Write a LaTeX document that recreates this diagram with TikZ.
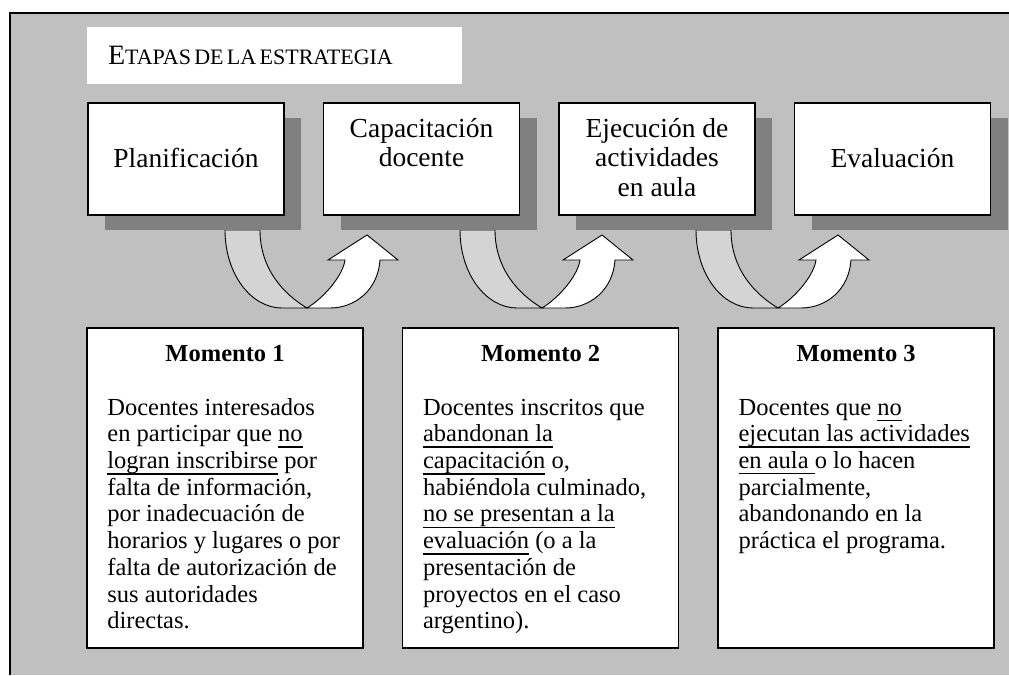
\documentclass[tikz,border=0pt]{standalone}
\usepackage{fontspec}
\setmainfont{Liberation Serif}
\usetikzlibrary{positioning,shadows}

\definecolor{fondo}{RGB}{192,192,192}
\definecolor{sombra}{RGB}{128,128,128}
\definecolor{brazo}{RGB}{212,212,212}

% subrayado a profundidad fija
\newcommand{\raya}[1]{\setbox0\hbox{#1}\rlap{\rule[-6pt]{\wd0}{1.3pt}}\box0\relax}

\tikzset{
  etapa/.style={draw=black, line width=1.5pt, fill=white,
    minimum width=196pt, minimum height=112pt,
    drop shadow={shadow xshift=17pt, shadow yshift=-15pt, fill=sombra, opacity=1}},
  rotulo/.style={font=\fontsize{27.5}{29.5}\selectfont, align=center,
    inner sep=0pt, anchor=north},
  momento/.style={draw=black, line width=1.6pt, fill=white,
    minimum width=276pt, minimum height=320pt},
  encabezado/.style={font=\fontsize{24.5}{26.7}\selectfont\bfseries,
    inner sep=0pt, anchor=base},
  cuerpo/.style={font=\fontsize{24.5}{26.7}\selectfont, align=left,
    inner sep=0pt, anchor=north west},
  flecha/.style={draw=black, line width=0.9pt}
}

\begin{document}
\begin{tikzpicture}[x=1pt, y=-1pt]
  \useasboundingbox (0,0) rectangle (1009,675);

  % Fondo y marco
  \fill[fondo] (10,13) rectangle (1009,675);
  \draw[line width=1.3pt] (10,675) -- (10,13) -- (1009,13);

  % Titulo
  \node[fill=white, minimum width=375pt, minimum height=57pt,
    inner xsep=21pt, inner ysep=0pt, text width=333pt, align=left] (titulo) at (274.5,55.5)
    {\fontsize{28}{30}\selectfont E\fontsize{22}{24}\selectfont TAPAS DE LA ESTRATEGIA};

  % Flechas en U entre etapas
  \foreach \dx in {307,542,778}{
    \begin{scope}[shift={(\dx,308)}]
      \draw[flecha, fill=brazo] (-82,-78) -- (-47,-78)
        .. controls (-47,-38) and (-22,-13) .. (0,0) -- (-25,0)
        .. controls (-56,0) and (-82,-34) .. (-82,-78);
      \draw[flecha, fill=white] (0,0)
        .. controls (18,-11) and (36,-33) .. (38,-48) -- (21,-48) -- (60,-73)
        -- (91,-48) -- (73,-48) .. controls (71,-18) and (48,0) .. (23,0) -- cycle;
    \end{scope}
  }

  % Etapas
  \node[etapa] (plan) at (186,159) {};
  \node[etapa, right=38pt of plan] (capa) {};
  \node[etapa, right=38pt of capa] (ejec) {};
  \node[etapa, right=38pt of ejec] (eval) {};

  \node[rotulo] (t1) at ([yshift=-44.35pt]plan.north) {\strut Planificación};
  \node[rotulo] (t2) at ([yshift=-14.35pt]capa.north) {\strut Capacitación\\docente};
  \node[rotulo] (t3) at ([yshift=-14.35pt]ejec.north) {\strut Ejecución de\\actividades\\en aula};
  \node[rotulo] (t4) at ([yshift=-44.35pt]eval.north) {\strut Evaluación};

  % Momentos
  \node[momento] (m1) at (225,488) {};
  \node[momento, right=38pt of m1] (m2) {};
  \node[momento, right=38pt of m2] (m3) {};

  \node[encabezado] (h1) at ([yshift=-34pt]m1.north) {Momento 1};
  \node[encabezado] (h2) at ([yshift=-34pt]m2.north) {Momento 2};
  \node[encabezado] (h3) at ([yshift=-34pt]m3.north) {Momento 3};

  \node[cuerpo] (c1) at ([xshift=21pt, yshift=-69pt]m1.north west)
    {\strut Docentes interesados\\
     en participar que \raya{no}\\
     \raya{logran inscribirse} por\\
     falta de información,\\
     por inadecuación de\\
     horarios y lugares o por\\
     falta de autorización de\\
     sus autoridades\\
     directas.};
  \node[cuerpo] (c2) at ([xshift=21pt, yshift=-69pt]m2.north west)
    {\strut Docentes inscritos que\\
     \raya{abandonan la}\\
     \raya{capacitación} o,\\
     habiéndola culminado,\\
     \raya{no se presentan a la}\\
     \raya{evaluación} (o a la\\
     presentación de\\
     proyectos en el caso\\
     argentino).};
  \node[cuerpo] (c3) at ([xshift=21pt, yshift=-69pt]m3.north west)
    {\strut Docentes que \raya{no}\\
     \raya{ejecutan las actividades}\\
     \raya{en aula }o lo hacen\\
     parcialmente,\\
     abandonando en la\\
     práctica el programa.};

\end{tikzpicture}
\end{document}
